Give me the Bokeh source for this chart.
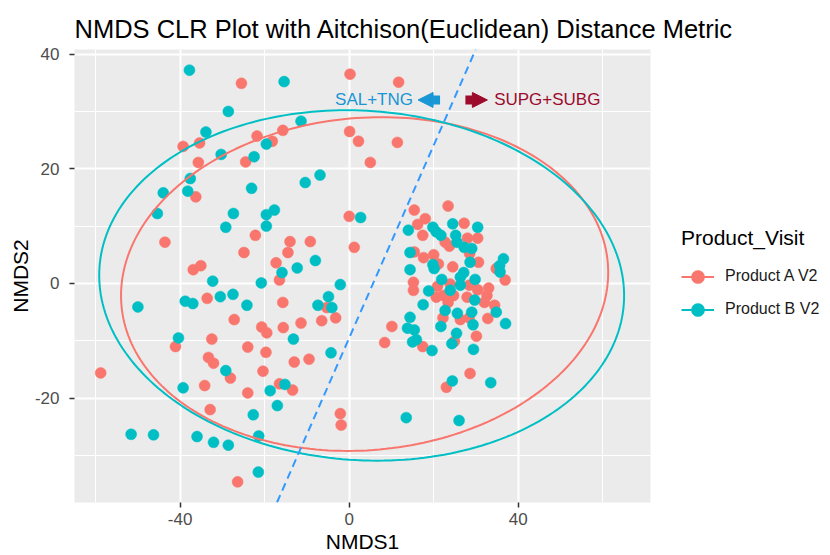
import numpy as np
from bokeh.plotting import figure
from bokeh.models import (ColumnDataSource, FixedTicker, Legend, LegendItem, Slope,
                          Label, Arrow, NormalHead, Range1d)
from bokeh.embed import file_html
from bokeh.resources import INLINE

FONT = "Liberation Sans"
RED = "#F8766D"
CYAN = "#00BFC4"

# ---------------- data ----------------
groups = ["Product A V2", "Product B V2"]

a_x = [-25.5, 0.2, 11.7, -39.3, -35.4, -21.8, -18.2, -15.7, -35.7, -24.5, 0.1, 2.2, 11.4, 5.0,
       -36.3, 0.0, 1.2, -43.6, -22.2, -14.0, -9.2, -24.9, -14.5, -17.3, -36.9, -35.1, -16.5,
       -33.6, -15.7, -5.3, -6.5, -3.2, -27.2, -20.7, -19.5, -15.6, -11.4, -32.5, -41.1, -24.0,
       -19.7, -33.3, -32.1, -13.0, -9.5, -58.8, -28.1, -20.4, -34.2, -16.5, -13.4, -24.0, -32.9,
       -2.1, -1.9, -26.4,
       23.4, 15.4, 18.0, 16.2, 27.2, 17.4, 22.7, 23.7, 28.0, 30.4, 15.4, 17.6, 20.0, 21.1, 24.5,
       28.5, 30.6, 34.8, 36.9, 15.2, 15.2, 20.9, 23.9, 28.4, 30.4, 33.0, 32.6, 20.6, 22.3, 24.7,
       27.9, 32.0, 34.4, 23.4, 10.1, 8.4, 22.2, 26.3, 28.4, 32.8, 30.1, 17.4, 24.9, 28.6, 23.0]
a_y = [34.9, 36.5, 35.1, 23.9, 24.5, 25.7, 24.8, 26.7, 21.1, 21.2, 26.5, 24.8, 24.6, 21.1,
       15.1, 11.7, 6.3, 7.2, 8.4, 7.3, 7.3, 5.4, 5.4, 3.6, 2.4, 3.1, 0.6,
       -2.6, -3.3, -4.2, -6.5, -6.0, -6.3, -7.6, -8.6, -7.7, -6.9, -9.7, -11.0, -11.1,
       -12.0, -12.9, -13.9, -13.7, -13.2, -15.6, -16.5, -15.3, -17.8, -17.5, -18.6, -19.1, -22.0,
       -22.7, -24.7, -34.6,
       13.5, 12.8, 11.3, 10.3, 10.5, 8.4, 7.2, 6.5, 7.9, 7.9, 5.5, 4.5, 5.0, 3.4, 2.9,
       5.2, 3.7, 2.6, 0.6, 0.2, -1.2, -0.5, -0.1, -0.3, -1.1, -0.8, -2.1, -2.4, -2.1, -2.1,
       -2.4, -3.3, -3.8, -3.3, -7.5, -10.3, -6.0, -6.3, -6.0, -6.1, -9.2, -11.0, -10.1, -15.7, -18.1]

b_x = [-37.8, -15.4, -28.6, -33.9, -11.4, -30.3, -22.5, -19.6, -37.6, -38.2, -44.0, -23.1,
       -10.4, -6.9, -45.4, -27.4, -29.2, -19.6, -17.7, -19.6, -8.0, -12.3, -15.9, -32.3, -20.8,
       2.7, -2.1, -50.0, -38.8, -37.0, -30.5, -27.5, -24.2, -4.9, -7.4, -4.1, -40.4, -13.2,
       -4.3, -29.2, -39.3, -15.2, -18.7, -17.0, -22.7, -51.6, -46.3, -36.0, -32.1, -28.6,
       -21.4, -21.5, 13.5, 26.0,
       14.0, 19.8, 20.6, 21.7, 24.5, 30.4, 25.2, 25.5, 27.2, 29.0, 28.6, 14.4, 19.8, 20.1, 14.4,
       21.9, 26.3, 27.1, 29.8, 26.3, 23.9, 18.8, 36.5, 35.6, 35.7, 29.7, 17.5, 14.4, 13.8, 15.4,
       15.0, 15.9, 19.6, 21.7, 25.6, 29.0, 29.3, 25.4, 24.3, 29.4, 34.8, 37.0, 22.7, 24.4, 33.5]
b_y = [37.2, 35.2, 30.0, 26.4, 28.3, 22.5, 22.1, 24.3, 18.3, 16.1, 15.8, 16.6,
       17.6, 18.9, 12.2, 12.2, 9.8, 12.0, 12.8, 10.0, 4.0, 2.7, 1.9, 0.4, 0.1,
       11.5, -0.2, -4.1, -3.1, -3.5, -2.3, -1.9, -3.8, -2.3, -3.8, -4.2, -9.5, -9.7,
       -12.1, -15.2, -18.2, -17.6, -18.7, -21.3, -22.9, -26.3, -26.4, -26.7, -27.7, -28.2,
       -26.6, -32.9, -23.4, -23.9,
       9.3, 9.8, 9.0, 8.4, 10.4, 9.8, 8.4, 7.2, 6.3, 6.1, 3.7, 5.4, 3.3, 2.6, 2.4,
       0.7, 1.1, 1.9, 0.7, -0.3, -1.2, -1.3, 4.3, 3.1, 2.0, -2.9, -3.7, -5.9, -7.8, -8.1,
       -10.2, -9.8, -11.7, -7.5, -5.2, -5.0, -7.2, -8.7, -10.5, -11.5, -5.0, -7.0, -4.7, -17.0, -17.3]

# 95% ellipse shapes: centre, x half-width, shear, y half-height
ellipse_a = {"cx": 3.65, "cy": -0.1, "ax": 57.5, "kx": 4.0, "by": 29.1}
ellipse_b = {"cx": 2.95, "cy": -0.35, "ax": 62.0, "kx": -3.6, "by": 30.55}

# dividing line
div_slope = 1.68
div_intercept = -9.5

x_ticks = [-40, 0, 40]
x_minor = [-60, -20, 20, 60]
y_ticks = [-20, 0, 20, 40]
y_minor = [-30, -10, 10, 30]


def ellipse_points(e, n=241):
    t = np.linspace(0, 2 * np.pi, n)
    return (e["cx"] + e["ax"] * np.cos(t) + e["kx"] * np.sin(t),
            e["cy"] + e["by"] * np.sin(t))


p = figure(frame_width=576, frame_height=453, output_backend="svg", toolbar_location=None,
           x_range=Range1d(-65.0, 71.3), y_range=Range1d(-38.2, 40.8),
           min_border_left=74, min_border_top=49, min_border_right=10, min_border_bottom=53)

p.background_fill_color = "#EBEBEB"
p.border_fill_color = "white"
p.outline_line_color = None

p.title.text = "NMDS CLR Plot with Aitchison(Euclidean) Distance Metric"
p.title.text_font = FONT
p.title.text_font_size = "25.5px"
p.title.text_font_style = "normal"
p.title.text_color = "black"
p.title.align = "left"
p.title.standoff = 14

p.xaxis.ticker = FixedTicker(ticks=x_ticks, minor_ticks=x_minor)
p.yaxis.ticker = FixedTicker(ticks=y_ticks, minor_ticks=y_minor)
p.xaxis.major_label_overrides = {t: str(t) for t in x_ticks}
p.yaxis.major_label_overrides = {t: str(t) for t in y_ticks}
for g in (p.xgrid, p.ygrid):
    g.grid_line_color = "white"
    g.grid_line_width = 2
    g.minor_grid_line_color = "white"
    g.minor_grid_line_width = 1

for ax in (p.xaxis, p.yaxis):
    ax.axis_line_color = None
    ax.major_tick_line_color = "#333333"
    ax.major_tick_line_width = 1.5
    ax.major_tick_out = 5
    ax.major_tick_in = 0
    ax.minor_tick_out = 0
    ax.minor_tick_in = 0
    ax.major_label_text_font = FONT
    ax.major_label_text_font_size = "17px"
    ax.major_label_text_color = "#4D4D4D"
    ax.axis_label_text_font = FONT
    ax.axis_label_text_font_size = "21px"
    ax.axis_label_text_font_style = "normal"
    ax.axis_label_text_color = "black"
p.xaxis.major_label_standoff = 5
p.xaxis.axis_label_standoff = 2
p.yaxis.major_label_standoff = 10
p.yaxis.axis_label_standoff = 0
p.xaxis.axis_label = "NMDS1"
p.yaxis.axis_label = "NMDS2"

src_a = ColumnDataSource(dict(x=a_x, y=a_y))
src_b = ColumnDataSource(dict(x=b_x, y=b_y))
pts_a = p.scatter("x", "y", source=src_a, size=11, fill_color=RED, line_color=RED, line_width=0.5)
pts_b = p.scatter("x", "y", source=src_b, size=11, fill_color=CYAN, line_color=CYAN, line_width=0.5)

ex, ey = ellipse_points(ellipse_a)
ell_a = p.line(ex, ey, line_color=RED, line_width=2)
ex, ey = ellipse_points(ellipse_b)
ell_b = p.line(ex, ey, line_color=CYAN, line_width=2)

p.add_layout(Slope(gradient=div_slope, y_intercept=div_intercept, line_color="#3399FF",
                   line_width=2, line_dash="8 5"))

BLUE_T = "#1996D4"
DARK_R = "#9C0A2C"
p.add_layout(Label(x=15.1, y=32.0, text="SAL+TNG", text_align="right", text_baseline="middle",
                   text_font=FONT, text_font_size="17px", text_color=BLUE_T))
p.add_layout(Label(x=34.3, y=32.0, text="SUPG+SUBG", text_align="left", text_baseline="middle",
                   text_font=FONT, text_font_size="17px", text_color=DARK_R))
p.add_layout(Arrow(x_start=21.5, y_start=32.0, x_end=16.3, y_end=32.0, line_width=9,
                   line_color=BLUE_T,
                   end=NormalHead(size=15, fill_color=BLUE_T, line_color=BLUE_T)))
p.add_layout(Arrow(x_start=27.5, y_start=32.0, x_end=32.7, y_end=32.0, line_width=9,
                   line_color=DARK_R,
                   end=NormalHead(size=15, fill_color=DARK_R, line_color=DARK_R)))

legend = Legend(items=[LegendItem(label=groups[0], renderers=[ell_a, pts_a]),
                       LegendItem(label=groups[1], renderers=[ell_b, pts_b])],
                title="Product_Visit", location="center_left")
legend.title_text_font = FONT
legend.title_text_font_size = "21px"
legend.title_text_font_style = "normal"
legend.title_text_color = "black"
legend.title_standoff = 10
legend.label_text_font = FONT
legend.label_text_font_size = "16px"
legend.label_text_color = "#1A1A1A"
legend.glyph_width = 33
legend.glyph_height = 33
legend.label_standoff = 11
legend.spacing = 0
legend.margin = 31
legend.padding = 0
legend.border_line_color = None
legend.background_fill_alpha = 0
p.add_layout(legend, "right")

open("out.html", "w").write(file_html(p, INLINE))
